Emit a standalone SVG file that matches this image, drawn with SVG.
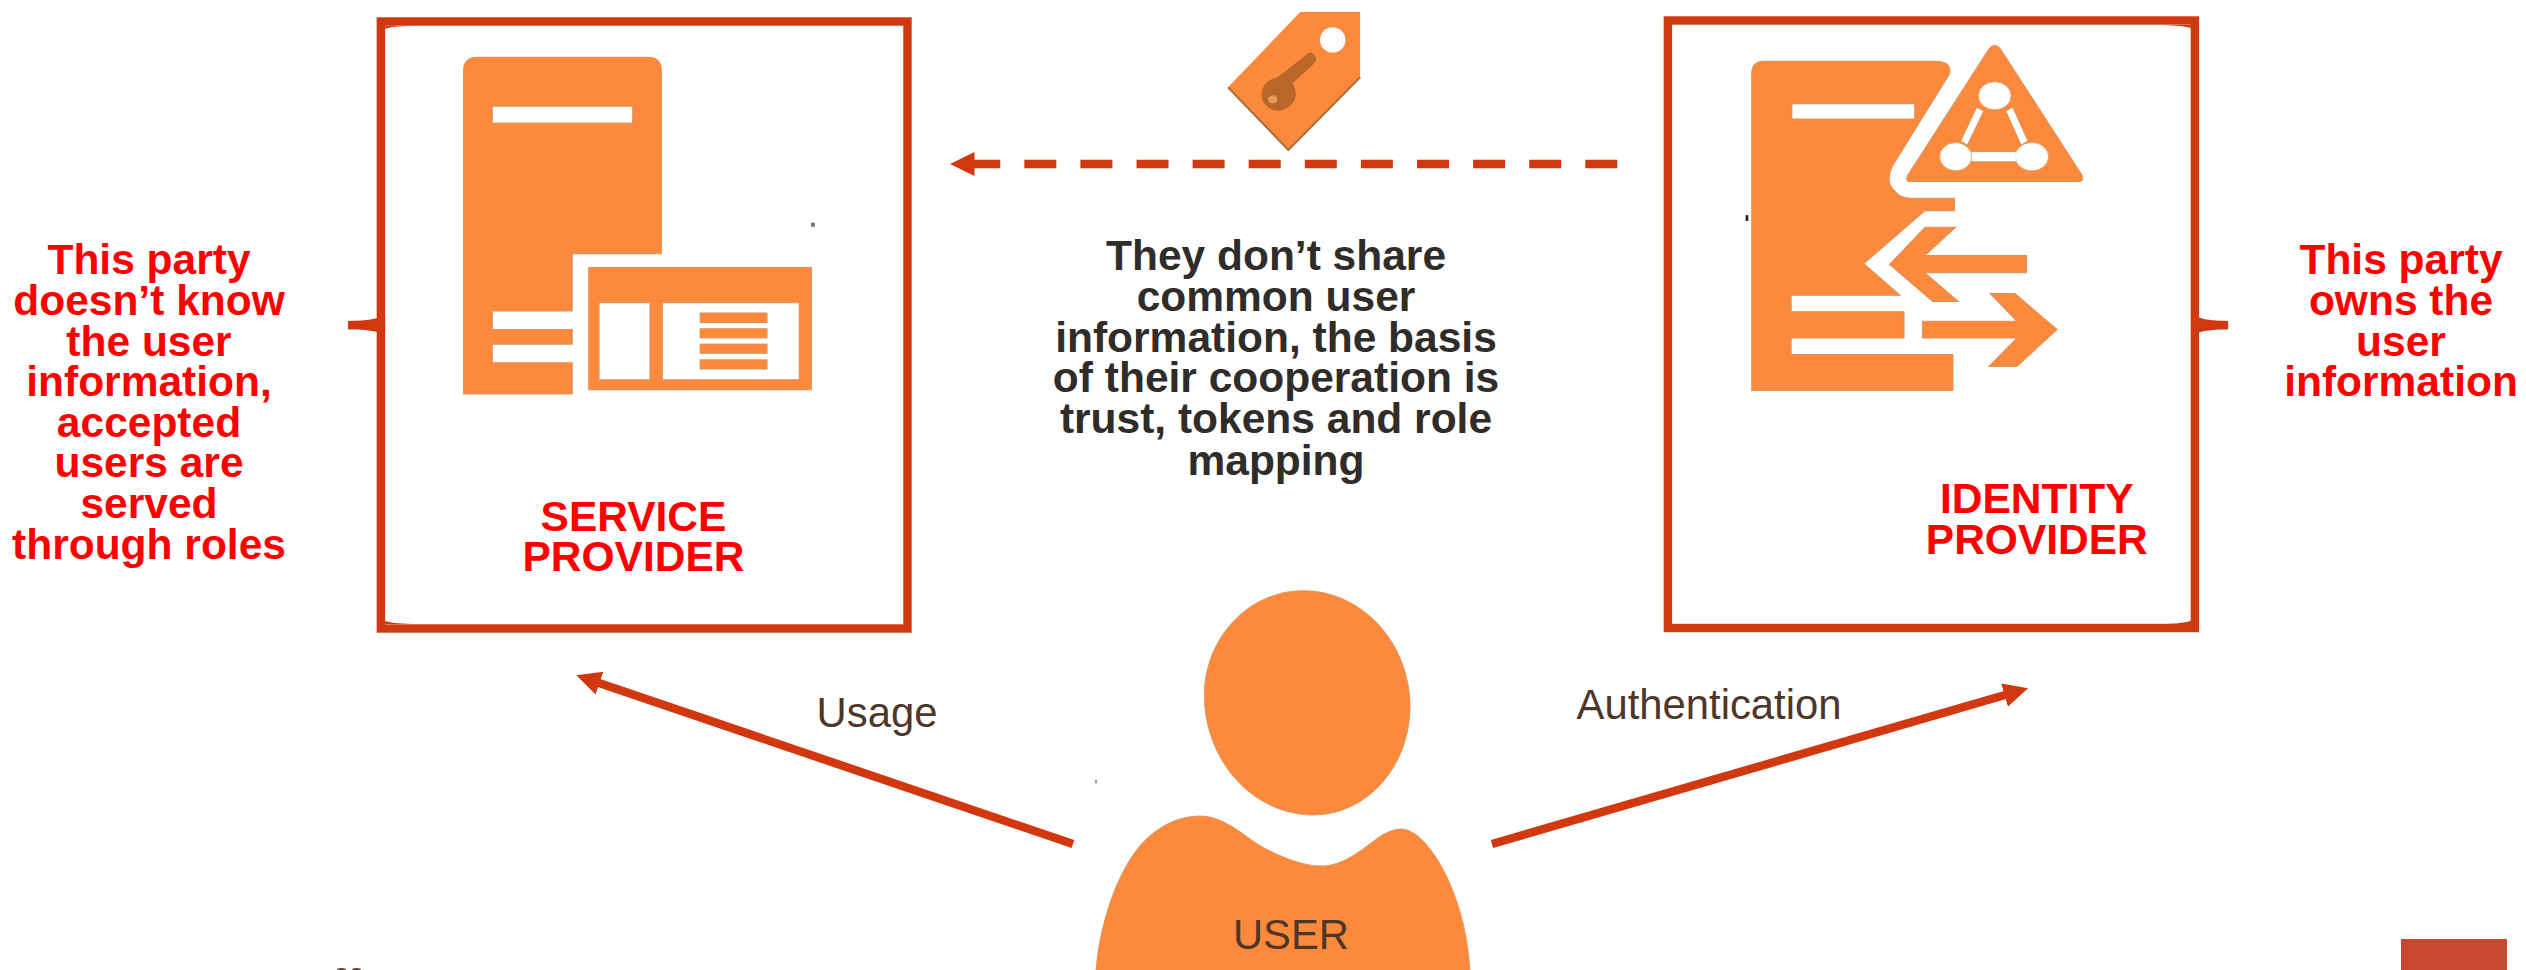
<svg xmlns="http://www.w3.org/2000/svg" width="2526" height="970" viewBox="0 0 2526 970">
<style>
.t{font-family:"Liberation Sans",Arial,sans-serif;text-anchor:middle}
.b{font-weight:700;font-size:42.5px}
.red{fill:#ff0000}
.dark{fill:#302c29}
.lab{font-size:41.8px;fill:#4e3629}
.ico{fill:#fd8a3c;stroke:#d9935c;stroke-width:2.5;fill-rule:evenodd}
.wh{fill:#ffffff}
.frame{fill:none;stroke:#d2380f;stroke-width:8.4}
.acc{fill:#d2380f}
.conn{fill:none;stroke:#d2380f;stroke-width:8.4}
</style>
<defs>
<marker id="head" markerUnits="userSpaceOnUse" markerWidth="26" markerHeight="26" refX="0.5" refY="12" orient="auto">
<path d="M0,0 L24.5,12 L0,24 Z" fill="#d2380f"/>
</marker>
</defs>

<g id="service-provider">
<rect class="frame" x="380.9" y="21.5" width="526.6" height="607"/>
<g transform="translate(340,0) scale(0.38265,0.4146)">
<path class="acc" d="M118,62 L190,62 C150,63 130,65 118,70 Z M118,1505 L190,1505 C150,1504 130,1502 118,1498 Z"/>
<path class="acc" d="M21,774 C50,774 80,773 100,766 L118,766 L118,804 L100,802 C80,796 50,795 21,795 Z"/>
<path class="ico" d="M323,170 Q323,138 360,138 L805,138 Q840,138 840,170 L840,612 L607,612 L607,750 L398,750 L398,795 L607,795 L607,830 L398,830 L398,875 L607,875 L607,950 L323,950 Z M398,256 L765,256 L765,297 L398,297 Z"/>
<path class="ico" d="M650,645 H1232 V940 H650 Z M677,730 H810 V916 H677 Z M843,730 H1200 V916 H843 Z"/>
<rect class="ico" x="941" y="755" width="175" height="23"/>
<rect class="ico" x="941" y="793" width="175" height="22"/>
<rect class="ico" x="941" y="830" width="175" height="22"/>
<rect class="ico" x="941" y="868" width="175" height="22"/>
<rect x="1231" y="537" width="10" height="10" fill="#777777"/>
</g>
<text class="t b red"><tspan x="633.5" y="530.7">SERVICE</tspan><tspan x="633.5" y="571.3">PROVIDER</tspan></text>
</g>

<g id="identity-provider">
<rect class="frame" x="1667.9" y="20.5" width="527" height="607.5"/>
<g transform="translate(1640,0) scale(0.38265,0.4146)">
<path class="acc" d="M1440,60 L1365,60 C1405,61 1425,63 1440,68 Z M1440,1505 L1365,1505 C1405,1504 1425,1502 1440,1497 Z"/>
<path class="acc" d="M1537,774 C1510,774 1480,773 1461,766 L1440,766 L1440,804 L1461,802 C1480,796 1510,795 1537,795 Z"/>
<path class="ico" d="M292,178 Q292,148 325,148 L775,148 Q818,150 808,180 L660,400 Q640,440 665,460 Q680,478 710,478 L822,478 L822,508 L745,508 L585,636 L680,712 L395,712 L395,752 L690,752 L690,815 L395,815 L395,855 L818,855 L818,942 L292,942 Z M397,250 L718,250 L718,287 L397,287 Z"/>
<path class="ico" d="M912,118 Q927,102 942,118 L1155,422 Q1162,438 1145,438 L705,438 Q692,438 700,422 Z"/>
<g class="wh" stroke="#d9935c" stroke-width="2.5">
<path d="M880,258 L898,268 L856,350 L838,340 Z"/>
<path d="M974,258 L956,268 L996,350 L1014,340 Z"/>
<rect x="860" y="366" width="130" height="24"/>
</g>
<g class="wh" stroke="#d9935c" stroke-width="2">
<ellipse cx="927" cy="231" rx="43" ry="34"/>
<ellipse cx="825" cy="378" rx="42" ry="34"/>
<ellipse cx="1024" cy="378" rx="44" ry="34"/>
</g>
<path class="wh" d="M868,367 H982 V389 H868 Z"/>
<path class="ico" d="M825,548 L745,548 L652,638 L765,727 L832,727 L745,658 L1010,658 L1010,616 L745,616 Z"/>
<path class="ico" d="M738,775 L985,775 L915,708 L980,708 L1090,795 L985,884 L912,884 L985,815 L738,815 Z"/>
<rect x="276" y="519" width="7" height="14" fill="#222222"/>
</g>
<text class="t b red"><tspan x="2036.8" y="513">IDENTITY</tspan><tspan x="2036.8" y="553.5">PROVIDER</tspan></text>
</g>

<g id="token">
<g transform="translate(900,0) scale(0.4719,0.3333)">
<path d="M848,36 L975,36 L975,232 L823,450 L695,262 Z" fill="#fd8a3c"/>
<path d="M975,232 L823,450 L695,262" fill="none" stroke="#a96f3f" stroke-width="5"/>
<ellipse class="wh" cx="917" cy="120" rx="27" ry="38"/>
<path d="M872,158 Q888,170 878,190 L832,250 Q846,285 832,310 Q812,340 790,330 Q765,315 766,280 Q770,240 800,232 L858,168 Q865,156 872,158 Z" fill="#b9662a"/>
<ellipse cx="790" cy="298" rx="10" ry="12" fill="#e79a5c"/>
</g>
</g>

<g id="user">
<g transform="translate(1040,570) scale(0.33333)">
<path class="ico" d="M790,62 C966,62 1110,219 1110,410 C1110,589 980,735 820,735 C640,735 493,573 493,375 C493,205 625,62 790,62 Z"/>
<path class="ico" d="M168,1203 C175,1090 220,930 290,840 C340,775 410,738 480,738 C560,738 620,808 680,838 C740,868 800,890 850,888 C930,885 1000,805 1040,788 C1080,770 1100,775 1130,795 C1200,850 1280,1010 1290,1203 Z"/>
<rect x="165" y="630" width="6" height="10" fill="#999999"/>
</g>
<text class="t lab" x="1291" y="949">USER</text>
</g>

<g id="connectors">
<line class="conn" x1="1617.3" y1="164" x2="974" y2="164" stroke-dasharray="32 24.1" marker-end="url(#head)"/>
<line class="conn" x1="1073" y1="844" x2="599" y2="683" marker-end="url(#head)"/>
<line class="conn" x1="1492" y1="844" x2="2005" y2="695" marker-end="url(#head)"/>
</g>

<g id="labels">
<text class="t b red"><tspan x="149" y="274">This party</tspan><tspan x="149" y="314.7">doesn’t know</tspan><tspan x="149" y="355.7">the user</tspan><tspan x="149" y="396">information,</tspan><tspan x="149" y="437">accepted</tspan><tspan x="149" y="477">users are</tspan><tspan x="149" y="518">served</tspan><tspan x="149" y="559">through roles</tspan></text>
<text class="t b red"><tspan x="2401" y="274">This party</tspan><tspan x="2401" y="314.7">owns the</tspan><tspan x="2401" y="355.7">user</tspan><tspan x="2401" y="396">information</tspan></text>
<text class="t b dark"><tspan x="1276" y="270">They don’t share</tspan><tspan x="1276" y="310.7">common user</tspan><tspan x="1276" y="351.7">information, the basis</tspan><tspan x="1276" y="392.3">of their cooperation is</tspan><tspan x="1276" y="433">trust, tokens and role</tspan><tspan x="1276" y="475">mapping</tspan></text>
<text class="t lab" x="877" y="726.7">Usage</text>
<text class="t lab" x="1709" y="719">Authentication</text>
</g>

<rect id="corner-block" x="2401" y="939" width="106" height="31" fill="#c5482f"/>
<g id="clipped-marks" fill="#5a4030">
<ellipse cx="341.5" cy="970" rx="4.5" ry="2"/>
<ellipse cx="356.5" cy="970" rx="4.5" ry="2"/>
</g>
</svg>
